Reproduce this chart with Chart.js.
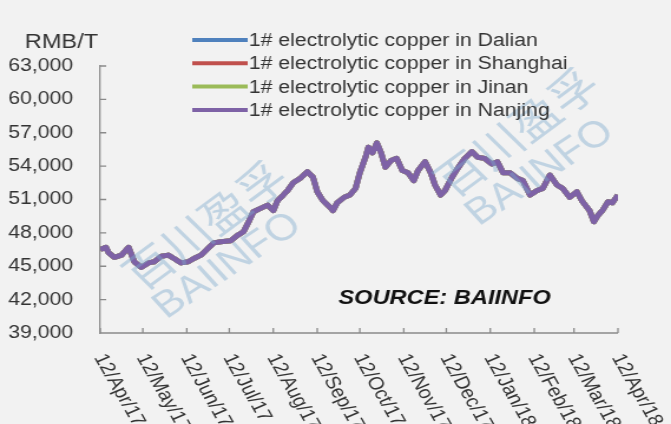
<!DOCTYPE html>
<html>
<head>
<meta charset="utf-8">
<script src="https://cdn.jsdelivr.net/npm/chart.js@4/dist/chart.umd.min.js"></script>
<style>
  html, body { margin: 0; padding: 0; background: #f2f2f2; overflow: hidden; }
  #wrap {
    width: 569px;
    height: 424px;
    transform: scaleX(1.1793);
    transform-origin: 0 0;
  }
</style>
</head>
<body>
<div id="wrap"><canvas id="copperChart" width="569" height="424"></canvas></div>
<script>
// ─── DATA ─────────────────────────────────────────────────────────
// day offset from 12/Apr/17 and price in RMB/T
const days = [
  0, 4, 6, 10, 15, 20, 24, 29, 34, 38, 43, 48, 52, 57, 62, 66, 71, 76, 80, 85,
  92, 97, 101, 105, 108, 113, 118, 122, 125, 129, 132, 136, 141, 146, 150, 153,
  157, 162, 164, 167, 172, 176, 180, 183, 187, 189, 192, 195, 198, 201, 205,
  209, 213, 217, 221, 224, 229, 233, 236, 240, 243, 248, 252, 257, 262, 266,
  271, 276, 280, 284, 289, 294, 298, 303, 308, 312, 317, 322, 326, 331, 336,
  340, 345, 348, 351, 354, 358, 361, 365,
];
// the four city quotes move together, so they share one set of readings
const prices = [
  46500, 46700, 46200, 45800, 46000, 46700, 45400, 44900, 45300, 45400, 45900,
  46000, 45700, 45300, 45400, 45700, 46000, 46600, 47100, 47200, 47300, 47800,
  48100, 49100, 49900, 50200, 50500, 50000, 50900, 51400, 51800, 52500, 52900,
  53500, 53000, 51700, 50900, 50300, 50000, 50700, 51200, 51400, 52000, 53400,
  54800, 55700, 55200, 56100, 55200, 53900, 54500, 54700, 53600, 53400, 52700,
  53600, 54400, 53400, 52300, 51400, 51800, 53000, 53800, 54700, 55300, 54800,
  54700, 54200, 54400, 53400, 53400, 52900, 52700, 51400, 51800, 52000, 53200,
  52300, 52000, 51200, 51700, 50800, 50000, 49000, 49600, 50000, 50800, 50700,
  51400,
];
const dalian = prices;
const shanghai = prices;
const jinan = prices;
const nanjing = prices;

const seriesNames = [
  "1# electrolytic copper in Dalian",
  "1# electrolytic copper in Shanghai",
  "1# electrolytic copper in Jinan",
  "1# electrolytic copper in Nanjing",
];
const seriesColors = ["#4f81bd", "#c0504d", "#9bbb59", "#7e62a6"];

const tickDays = [0, 30, 61, 91, 122, 153, 183, 214, 244, 275, 306, 334, 365];
const tickLabels = [
  "12/Apr/17", "12/May/17", "12/Jun/17", "12/Jul/17", "12/Aug/17",
  "12/Sep/17", "12/Oct/17", "12/Nov/17", "12/Dec/17", "12/Jan/18",
  "12/Feb/18", "12/Mar/18", "12/Apr/18",
];

const AXIS = "#8a8a8a";
const TEXT = "#333333";
const FONT = "'Liberation Sans', Arial, sans-serif";

function toPoints(values) {
  return values.map((v, i) => ({ x: days[i], y: v }));
}

// ─── PLUGIN: axes, legend, labels, watermark ─────────────────────
const decorations = {
  id: "decorations",
  afterDatasetsDraw(chart) {
    const { ctx } = chart;

    // watermark
    ctx.save();
    ctx.fillStyle = "rgba(125,170,205,0.42)";
    ctx.textAlign = "center";
    ctx.textBaseline = "middle";
    [[174, 225, 193, 266], [438, 132, 458, 173]].forEach(([cx, cy, bx, by]) => {
      ctx.save();
      ctx.translate(cx, cy);
      ctx.rotate((-41 * Math.PI) / 180);
      ctx.font = "42px 'Noto Sans CJK SC'";
      ctx.fillText("百川盈孚", 0, 0);
      ctx.restore();
      ctx.save();
      ctx.translate(bx, by);
      ctx.rotate((-38 * Math.PI) / 180);
      ctx.font = "37px " + FONT;
      ctx.fillText("BAIINFO", 0, 0);
      ctx.restore();
    });
    ctx.restore();
  },
  afterDraw(chart) {
    const { ctx, chartArea } = chart;
    const xs = chart.scales.x;
    const ys = chart.scales.y;

    ctx.save();
    ctx.strokeStyle = AXIS;
    ctx.lineWidth = 1.3;

    // x axis line + inward ticks
    ctx.beginPath();
    ctx.moveTo(chartArea.left, chartArea.bottom);
    ctx.lineTo(chartArea.right, chartArea.bottom);
    tickDays.forEach((d) => {
      const x = xs.getPixelForValue(d);
      ctx.moveTo(x, chartArea.bottom);
      ctx.lineTo(x, chartArea.bottom - 5);
    });
    // y inward ticks
    ys.ticks.forEach((t) => {
      const y = ys.getPixelForValue(t.value);
      ctx.moveTo(chartArea.left, y);
      ctx.lineTo(chartArea.left + 5, y);
    });
    ctx.stroke();

    // x tick labels, rotated clockwise
    ctx.fillStyle = TEXT;
    ctx.font = "18px " + FONT;
    ctx.textAlign = "left";
    ctx.textBaseline = "middle";
    tickDays.forEach((d, i) => {
      const x = xs.getPixelForValue(d);
      ctx.save();
      ctx.translate(x - 1, chartArea.bottom + 22);
      ctx.rotate((64 * Math.PI) / 180);
      ctx.fillText(tickLabels[i], 0, 0);
      ctx.restore();
    });

    // unit
    ctx.font = "20px " + FONT;
    ctx.fillText("RMB/T", 21, 42);

    // legend
    ctx.font = "18px " + FONT;
    seriesNames.forEach((name, i) => {
      const y = 40 + i * 23.3;
      ctx.strokeStyle = seriesColors[i];
      ctx.lineWidth = 4;
      ctx.beginPath();
      ctx.moveTo(163, y);
      ctx.lineTo(210, y);
      ctx.stroke();
      ctx.fillStyle = TEXT;
      ctx.fillText(name, 211, y + 1);
    });

    // source note
    ctx.fillStyle = "#111111";
    ctx.font = "italic bold 20px " + FONT;
    ctx.fillText("SOURCE: BAIINFO", 287, 298);
    ctx.restore();
  },
};

// ─── CHART ───────────────────────────────────────────────────────
const seriesData = [dalian, shanghai, jinan, nanjing];

new Chart(document.getElementById("copperChart").getContext("2d"), {
  type: "line",
  data: {
    datasets: seriesNames.map((name, i) => ({
      label: name,
      data: toPoints(seriesData[i]),
      borderColor: seriesColors[i],
      borderWidth: 5,
      borderJoinStyle: "round",
      pointRadius: 0,
      tension: 0,
      order: 3 - i,
    })),
  },
  options: {
    responsive: false,
    animation: false,
    devicePixelRatio: 1,
    locale: "en-US",
    layout: { padding: { top: 66, right: 45, bottom: 0, left: 0 } },
    plugins: {
      legend: { display: false },
      tooltip: { enabled: false },
    },
    scales: {
      x: {
        type: "linear",
        min: 0,
        max: 365,
        display: false,
        afterFit: (s) => { s.height = 91; },
      },
      y: {
        min: 39000,
        max: 63000,
        afterFit: (s) => { s.width = 85; },
        border: { display: true, color: AXIS, width: 1.3 },
        grid: { display: false, drawTicks: false },
        ticks: {
          stepSize: 3000,
          padding: 23,
          color: TEXT,
          font: { family: "'Liberation Sans', Arial, sans-serif", size: 18 },
        },
      },
    },
  },
  plugins: [decorations],
});
</script>
</body>
</html>
